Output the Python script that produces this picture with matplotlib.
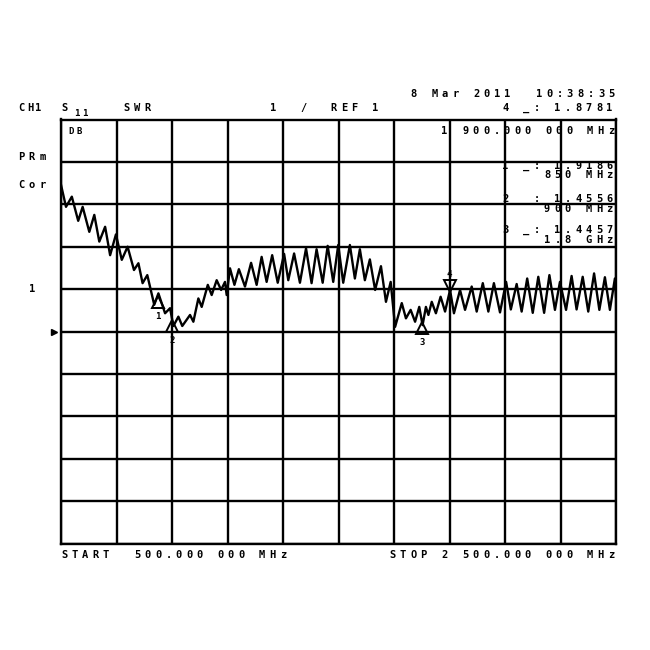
import numpy as np
import matplotlib.pyplot as plt

# S11 SWR trace (freq in MHz, level in graticule divisions)
freq_mhz = [500, 518, 539, 562, 578, 602, 620, 638, 659, 677, 698, 719, 740, 763, 779,
            794, 811, 836, 851, 875, 893, 905, 923, 937, 965, 977, 995, 1007, 1029, 1043,
            1061, 1077, 1091, 1097, 1109, 1125, 1141, 1163, 1185, 1205, 1223, 1241, 1261,
            1281, 1304, 1319, 1340, 1361, 1383, 1403, 1421, 1443, 1461, 1481, 1499, 1517,
            1541, 1559, 1577, 1595, 1613, 1632, 1653, 1671, 1688, 1704, 1728, 1743, 1760,
            1776, 1791, 1803, 1815, 1824, 1836, 1851, 1868, 1884, 1902, 1916, 1938, 1956,
            1980, 1998, 2020, 2040, 2060, 2082, 2104, 2121, 2142, 2160, 2180, 2200, 2220,
            2241, 2260, 2280, 2298, 2320, 2340, 2358, 2380, 2400, 2421, 2440, 2460, 2478,
            2496, 2500]
trace_div = [8.46, 7.94, 8.18, 7.61, 7.94, 7.35, 7.75, 7.12, 7.47, 6.80, 7.29, 6.69, 7.00,
             6.45, 6.61, 6.14, 6.33, 5.63, 5.90, 5.43, 5.55, 5.13, 5.35, 5.13, 5.39, 5.23,
             5.78, 5.58, 6.10, 5.86, 6.21, 5.98, 6.17, 5.86, 6.49, 6.10, 6.47, 6.06, 6.62,
             6.10, 6.76, 6.17, 6.80, 6.15, 6.83, 6.21, 6.84, 6.15, 6.96, 6.14, 6.94, 6.15,
             7.02, 6.17, 7.04, 6.15, 7.04, 6.25, 6.94, 6.21, 6.70, 5.98, 6.54, 5.70, 6.17,
             5.11, 5.67, 5.31, 5.51, 5.23, 5.58, 5.15, 5.58, 5.39, 5.70, 5.43, 5.82, 5.47,
             5.98, 5.43, 5.98, 5.51, 6.06, 5.47, 6.14, 5.47, 6.14, 5.45, 6.17, 5.52, 6.12,
             5.47, 6.25, 5.44, 6.29, 5.44, 6.33, 5.51, 6.17, 5.51, 6.31, 5.52, 6.29, 5.47,
             6.37, 5.51, 6.28, 5.51, 6.25, 5.81]

marker_freq = [850, 900, 1800, 1900]
marker_name = ['1', '2', '3', '4']
ref_div = 6
ref_pos_div = 5

W = 650.0
FONT = dict(family='DejaVu Sans Mono', weight='heavy', color='black')


def hp_text(x, y, s, size=7.5, pitch=10.4, right=False):
    # fixed-pitch instrument-style text, x/y in screen pixels
    if right:
        x = x - (len(s) - 1) * pitch - 7
    for i, ch in enumerate(s):
        if ch != ' ':
            fig.text((x + i * pitch + 3.5) / W, 1 - y / W, ch, ha='center', va='center',
                     fontsize=size, **FONT)


fig = plt.figure(figsize=(6.5, 6.5), dpi=100)
ax = fig.add_axes([61 / W, 1 - 543.5 / W, 555 / W, 424 / W])
ax.set_xlim(500, 2500)
ax.set_ylim(0, 10)
ax.set_xticks(np.arange(500, 2501, 200))
ax.set_yticks(np.arange(0, 11, 1))
ax.grid(color='black', lw=1.7)
ax.tick_params(length=0, labelbottom=False, labelleft=False)
for sp in ax.spines.values():
    sp.set_linewidth(1.7)

ax.plot(freq_mhz, trace_div, color='black', lw=1.7, zorder=3)

# markers
m_y = np.interp(marker_freq, freq_mhz, trace_div)
for f, y, name in zip(marker_freq, m_y, marker_name):
    if name == '4':
        ax.plot(f, y + 0.15, marker='v', ms=9, mfc='none', mec='black', mew=1.4, zorder=4)
        ax.text(f, y + 0.42, name, ha='center', va='center', fontsize=6.5, **FONT)
    else:
        ax.plot(f, y - 0.18, marker='^', ms=9, mfc='none', mec='black', mew=1.4, zorder=4)
        ax.text(f, y - 0.52, name, ha='center', va='center', fontsize=6.5, **FONT)

# reference position arrow and ref label
ax.plot([-0.012], [ref_pos_div], marker='>', ms=5, color='black',
        transform=ax.get_yaxis_transform(), clip_on=False)
ax.text(-0.052, ref_div, '1', transform=ax.get_yaxis_transform(), ha='center',
        va='center', fontsize=7.5, **FONT)

# header
hp_text(18, 108, 'CH1', pitch=8.5)
hp_text(61, 108, 'S')
hp_text(73, 113, '11', size=6.5, pitch=8)
hp_text(123, 108, 'SWR')
hp_text(270, 108, '1')
hp_text(300, 108, '/')
hp_text(330, 108, 'REF 1')
hp_text(615, 94, '8 Mar 2011  10:38:35', right=True)
hp_text(613, 108, '4 _: 1.8781', right=True)

# left annotations
hp_text(18, 157, 'PRm')
hp_text(18, 185, 'Cor')
hp_text(68, 131, 'DB', size=6.5, pitch=8)

# marker readouts inside the grid
hp_text(441, 131, '1 900.000 000 MHz')
hp_text(613, 166, '1 _: 1.9186', right=True)
hp_text(613, 175, '850 MHz', right=True)
hp_text(613, 199, '2  : 1.4556', right=True)
hp_text(613, 209, '900 MHz', right=True)
hp_text(613, 230, '3 _: 1.4457', right=True)
hp_text(613, 240, '1.8 GHz', right=True)

# footer
hp_text(61, 555, 'START  500.000 000 MHz')
hp_text(389, 555, 'STOP 2 500.000 000 MHz')

fig.savefig('out.png', dpi=100)
